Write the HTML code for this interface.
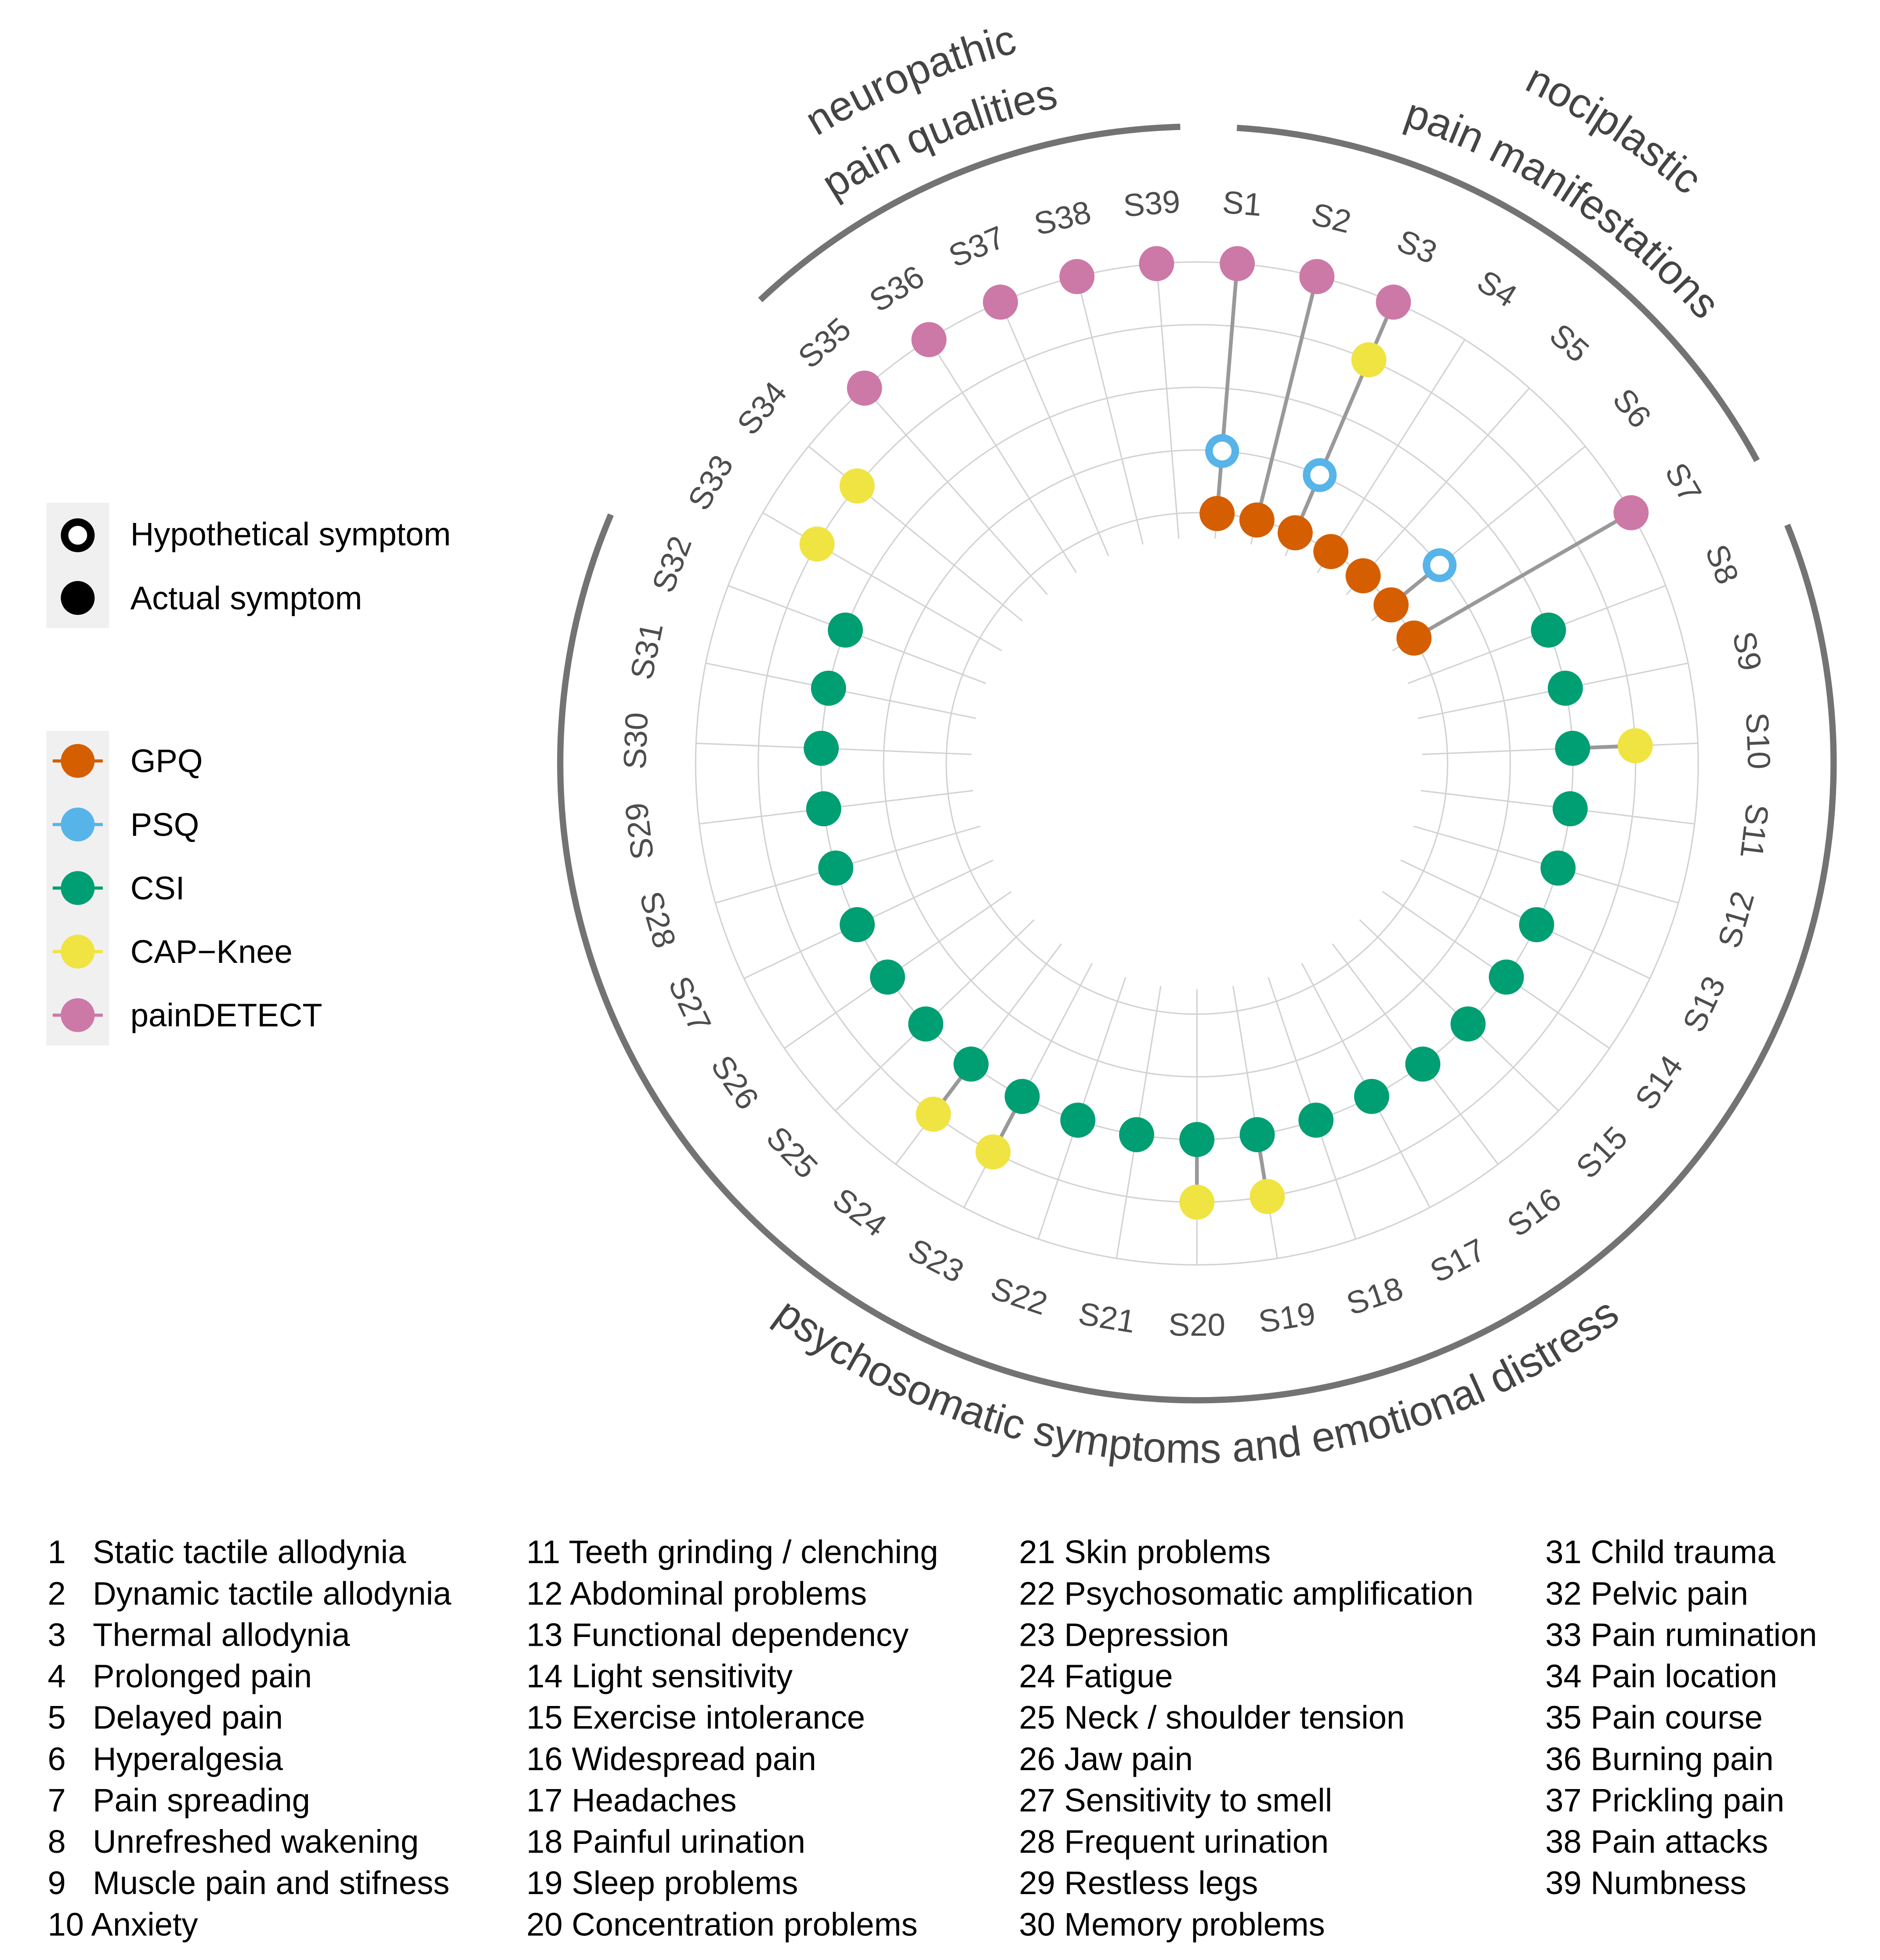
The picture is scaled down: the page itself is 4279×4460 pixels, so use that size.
<!DOCTYPE html>
<html><head><meta charset="utf-8"><style>
html,body{margin:0;padding:0;background:#fff}
svg{display:block}
text{font-family:"Liberation Sans",Arial,sans-serif}
</style></head><body>
<svg id="chart" width="4279" height="4460" viewBox="0 0 1500 1563.5" xmlns="http://www.w3.org/2000/svg">
<defs>
<path id="p-neuro1" d="M 955 609 m -585 0 a 585 585 0 0 1 1170 0"/>
<path id="p-neuro2" d="M 955 609 m -535 0 a 535 535 0 0 1 1070 0"/>
<path id="p-noci1" d="M 955 609 m -598 0 a 598 598 0 0 1 1196 0"/>
<path id="p-noci2" d="M 955 609 m -535 0 a 535 535 0 0 1 1070 0"/>
<path id="p-psych" d="M 955 609 m -558 0 a 558 558 0 0 0 1116 0"/>
</defs>
<g id="grid"></g>
<g id="arcs"></g>
<g id="lines"></g>
<g id="dots"></g>
<g id="ticks"></g>
<g fill="#444" font-size="33.5">
<text><textPath href="#p-neuro1" startOffset="37.4%" text-anchor="middle">neuropathic</textPath></text>
<text><textPath href="#p-neuro2" startOffset="37.6%" text-anchor="middle">pain qualities</textPath></text>
<text><textPath href="#p-noci1" startOffset="68.5%" text-anchor="middle">nociplastic</textPath></text>
<text><textPath href="#p-noci2" startOffset="68.5%" text-anchor="middle">pain manifestations</textPath></text>
<text><textPath href="#p-psych" startOffset="50%" text-anchor="middle">psychosomatic symptoms and emotional distress</textPath></text>
</g>
<g>
<rect x="37" y="401" width="50" height="100" fill="#f0f0f0"/>
<circle cx="62" cy="427" r="10.5" fill="#fff" stroke="#000" stroke-width="6"/>
<circle cx="62" cy="477" r="13.5" fill="#000"/>
<text x="104" y="435" font-size="26" fill="#000">Hypothetical symptom</text>
<text x="104" y="486" font-size="26" fill="#000">Actual symptom</text>
</g>
<g id="legend2">
<rect x="37" y="583" width="50" height="251" fill="#f0f0f0"/>
</g>
<g id="list" font-size="26" fill="#000"></g>
</svg>
<script>
const symptomNames = ["Static tactile allodynia","Dynamic tactile allodynia","Thermal allodynia","Prolonged pain","Delayed pain","Hyperalgesia","Pain spreading","Unrefreshed wakening","Muscle pain and stifness","Anxiety","Teeth grinding / clenching","Abdominal problems","Functional dependency","Light sensitivity","Exercise intolerance","Widespread pain","Headaches","Painful urination","Sleep problems","Concentration problems","Skin problems","Psychosomatic amplification","Depression","Fatigue","Neck / shoulder tension","Jaw pain","Sensitivity to smell","Frequent urination","Restless legs","Memory problems","Child trauma","Pelvic pain","Pain rumination","Pain location","Pain course","Burning pain","Prickling pain","Pain attacks","Numbness"];
const instruments = ["GPQ","PSQ","CSI","CAP\u2212Knee","painDETECT"];
const colors = ["#D55E00","#56B4E9","#009E73","#F0E442","#CC79A7"];
const hollow = [false,true,false,false,false];
const gpqSymptoms = [1,2,3,4,5,6,7];
const psqSymptoms = [1,3,6];
const csiSymptoms = [8,9,10,11,12,13,14,15,16,17,18,19,20,21,22,23,24,25,26,27,28,29,30,31,32];
const capSymptoms = [3,10,19,20,23,24,33,34];
const pdSymptoms = [1,2,3,7,35,36,37,38,39];
const instrumentLevels = [1,2,3,4,5];
const memberships = [gpqSymptoms,psqSymptoms,csiSymptoms,capSymptoms,pdSymptoms];
const groupNames = ["neuropathic","nociplastic","psychosomatic"];
const groupArcDeg = [[-43.3,-1.5],[3.6,61.6],[68,293]];

const NS="http://www.w3.org/2000/svg";
const cx=955, cy=609, N=symptomNames.length;
const ang = i => (i-0.5)*360/N;
const rad = v => 150+50*v;
const pt = (a,r)=>[cx+r*Math.sin(a*Math.PI/180), cy-r*Math.cos(a*Math.PI/180)];
function mk(tag,attrs,parent){const e=document.createElementNS(NS,tag);for(const k in attrs)e.setAttribute(k,attrs[k]);parent.appendChild(e);return e;}

const grid=document.getElementById('grid');
[1,2,3,4,5].forEach(v=>{
  const c=mk('circle',{cx:cx,cy:cy,r:rad(v),fill:'none',stroke:'#d2d2d2','stroke-width':1.1},grid);
  
  
});
for(let i=1;i<=N;i++){
  const a=ang(i),p0=pt(a,180),p1=pt(a,400);
  const l=mk('line',{x1:p0[0],y1:p0[1],x2:p1[0],y2:p1[1],stroke:'#d2d2d2','stroke-width':1.1},grid);
  
  
}
const arcs=document.getElementById('arcs');
groupArcDeg.forEach((g,k)=>{
  const R=508,a=pt(g[0],R),b=pt(g[1],R),large=(g[1]-g[0])>180?1:0;
  const p=mk('path',{d:`M${a[0]} ${a[1]} A${R} ${R} 0 ${large} 1 ${b[0]} ${b[1]}`,fill:'none',stroke:'#737373','stroke-width':5},arcs);
  
  
});
const lines=document.getElementById('lines'), dots=document.getElementById('dots');
for(let i=1;i<=N;i++){
  const lv=[];memberships.forEach((m,k)=>{if(m.includes(i))lv.push(instrumentLevels[k]);});
  if(lv.length>1){
    const a=ang(i),p0=pt(a,rad(Math.min(...lv))),p1=pt(a,rad(Math.max(...lv)));
    const l=mk('line',{x1:p0[0],y1:p0[1],x2:p1[0],y2:p1[1],stroke:'#999','stroke-width':3},lines);
    
    
  }
}
memberships.forEach((m,k)=>{
  m.forEach(i=>{
    const p=pt(ang(i),rad(instrumentLevels[k]));
    const c=hollow[k]?mk('circle',{cx:p[0],cy:p[1],r:10.5,fill:'#fff',stroke:colors[k],'stroke-width':6},dots)
                     :mk('circle',{cx:p[0],cy:p[1],r:14,fill:colors[k]},dots);
    
    
  });
});
const ticks=document.getElementById('ticks');
for(let i=1;i<=N;i++){
  const a=ang(i),p=pt(a,448);
  const rot=(a>100&&a<260)?a-180:a;
  const t=mk('text',{x:p[0],y:p[1],'text-anchor':'middle','dominant-baseline':'central','font-size':25.5,fill:'#4d4d4d',transform:`rotate(${rot} ${p[0]} ${p[1]})`},ticks);
  t.textContent='S'+i;
  
  
}
const lg=document.getElementById('legend2');
instruments.forEach((n,k)=>{
  const y=607+k*50.7;
  const l=mk('line',{x1:42,y1:y,x2:82,y2:y,stroke:colors[k],'stroke-width':2.5},lg);
  
  
  const c=mk('circle',{cx:62,cy:y,r:13.5,fill:colors[k]},lg);
  
  
  const t=mk('text',{x:104,y:y+9,'font-size':26,fill:'#000'},lg);
  t.textContent=n;
  
  
});
const list=document.getElementById('list');
const colX=[38,420,813,1233];
symptomNames.forEach((n,j)=>{
  const col=Math.floor(j/10),row=j%10,y=1247+row*33;
  const t=mk('text',{x:colX[col],y:y},list);
  if(j+1<10){const a=mk('tspan',{},t);a.textContent=String(j+1);const b=mk('tspan',{x:74},t);b.textContent=n;}
  else t.textContent=(j+1)+' '+n;
  
  
});
</script>
</body></html>
